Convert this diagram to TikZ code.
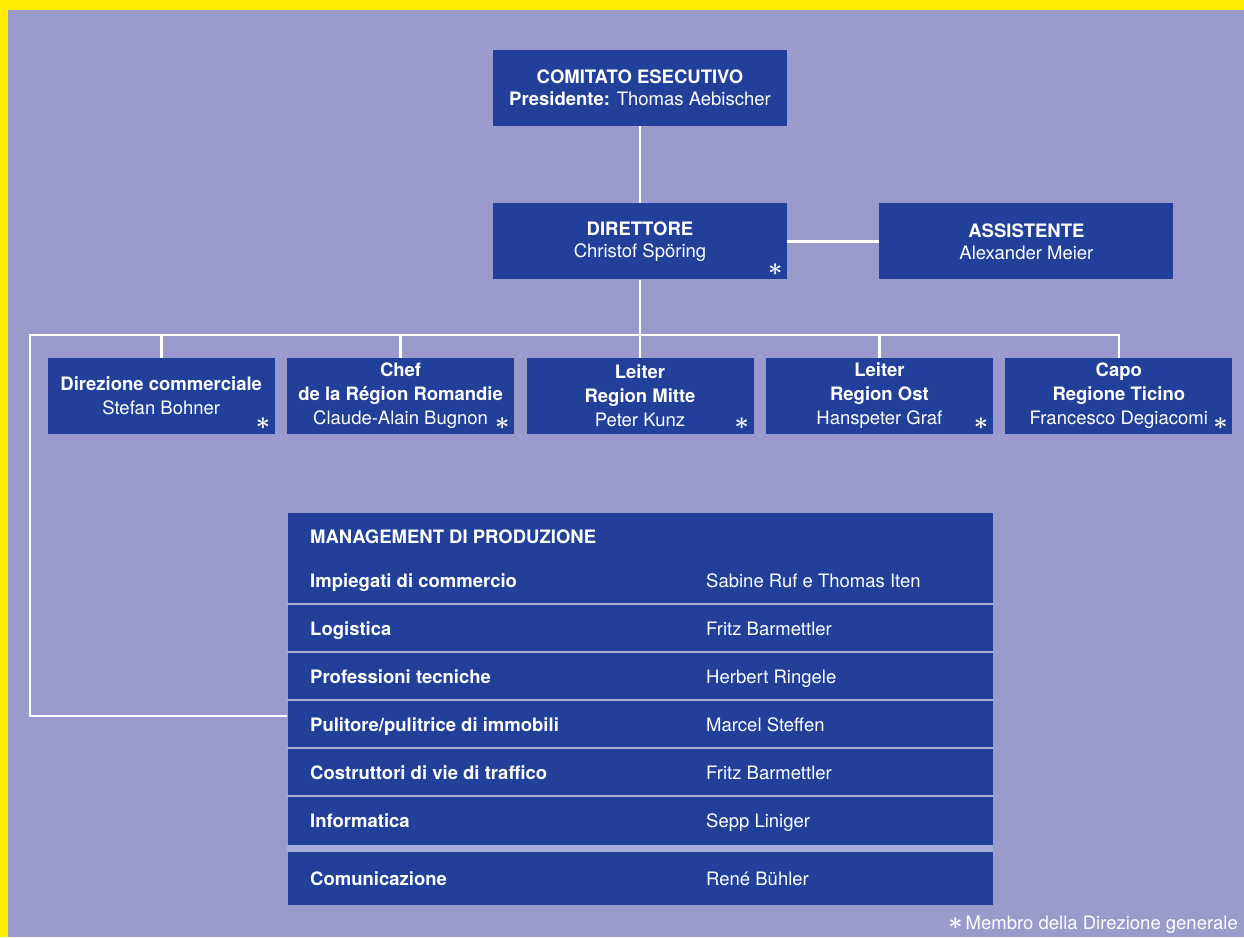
\documentclass[tikz,border=0pt]{standalone}
\usepackage{fontspec}
\setmainfont{TeX Gyre Heros}
\usetikzlibrary{positioning}
\definecolor{giallo}{HTML}{FFEE00}
\definecolor{sfondo}{HTML}{9A9BCC}
\definecolor{blu}{HTML}{22409A}
\definecolor{riga}{HTML}{A8ACD9}
\newcommand{\stellina}{{\fontsize{26}{26}\selectfont\boldmath$\ast$}}
\tikzset{
  box/.style={rectangle, fill=blu, text=white, align=center, inner sep=0pt,
    minimum width=294pt, minimum height=76pt, font=\fontsize{18.5}{22}\selectfont},
  regbox/.style={box, minimum width=227pt, font=\fontsize{18.5}{24}\selectfont},
  stella/.style={text=white, inner sep=0pt},
  link/.style={draw=white, line width=2.6pt, line join=miter},
  voce/.style={anchor=base west, text=white, inner sep=0pt, font=\fontsize{18.5}{22}\selectfont\bfseries},
  nome/.style={anchor=base west, text=white, inner sep=0pt, font=\fontsize{18.5}{22}\selectfont},
  sep/.style={draw=riga, line width=2.4pt}
}
\begin{document}
\begin{tikzpicture}[x=1pt, y=-1pt]
    \useasboundingbox (0,0) rectangle (1244,937);
    \fill[giallo] (0,0) rectangle (1244,937);%frame
    \fill[sfondo] (8,10) rectangle (1244,937);%background
    \node (com) [box] at (640,88) {\textbf{COMITATO ESECUTIVO}\\\textbf{Presidente:} Thomas Aebischer};
    \node (dir) [box, below=77pt of com] {\textbf{DIRETTORE}\\Christof Spöring};
    \node (ass) [box, right=92pt of dir] {\textbf{ASSISTENTE}\\Alexander Meier};
    % regioni
    \node (reg3) [regbox, below=78pt of dir] {\textbf{Leiter}\\\textbf{Region Mitte}\\Peter Kunz};
    \node (reg2) [regbox, left=12pt of reg3] {\textbf{Chef}\\\textbf{de la Région Romandie}\\Claude-Alain Bugnon\hspace{10pt}};
    \node (reg1) [regbox, left=12pt of reg2] {\textbf{Direzione commerciale}\\Stefan Bohner};
    \node (reg4) [regbox, right=12pt of reg3] {\textbf{Leiter}\\\textbf{Region Ost}\\Hanspeter Graf};
    \node (reg5) [regbox, right=12pt of reg4] {\textbf{Capo}\\\textbf{Regione Ticino}\\Francesco Degiacomi\hspace{10pt}};
    \node (s0) [stella] at ([xshift=-12pt, yshift=10pt]dir.south east) {\stellina};
    \foreach \r in {1,...,5}
      \node (s\r) [stella] at ([xshift=-12pt, yshift=10pt]reg\r.south east) {\stellina};
    % management di produzione
    \node (mgmt) [rectangle, fill=blu, minimum width=705pt, minimum height=392pt, inner sep=0pt, below=79pt of reg3] {};
    \foreach \s in {604,652,700,748,796}
      \draw[sep] (mgmt.west |- 0,\s) -- (mgmt.east |- 0,\s);
    \fill[riga] (mgmt.west |- 0,845) rectangle (mgmt.east |- 0,852);
    \node (titolo) [voce] at (310,543) {MANAGEMENT DI PRODUZIONE};
    \foreach \yy/\testo/\chi in {587/Impiegati di commercio/Sabine Ruf e Thomas Iten,
        635/Logistica/Fritz Barmettler, 683/Professioni tecniche/Herbert Ringele,
        731/{Pulitore/pulitrice di immobili}/Marcel Steffen, 779/Costruttori di vie di traffico/Fritz Barmettler,
        827/Informatica/Sepp Liniger, 885/Comunicazione/René Bühler}{
      \node (v\yy) [voce] at (310,\yy) {\testo};
      \node (n\yy) [nome] at (706,\yy) {\chi};
    }
    % collegamenti
    \coordinate (bus) at (dir.south |- 0,335);
    \draw[link] (com) -- (dir);
    \draw[link] (dir) -- (ass);
    \draw[link] (dir) -- (bus);
    \draw[link] (mgmt.west |- 0,716) -| (30,335) -| (reg5);
    \foreach \r in {1,...,4}
      \draw[link] (reg\r) -- (reg\r |- bus);
    \node (nota) [anchor=base east, text=white, inner sep=0pt, font=\fontsize{18.5}{22}\selectfont] at (1238,929) {\stellina\,Membro della Direzione generale};
\end{tikzpicture}
\end{document}
